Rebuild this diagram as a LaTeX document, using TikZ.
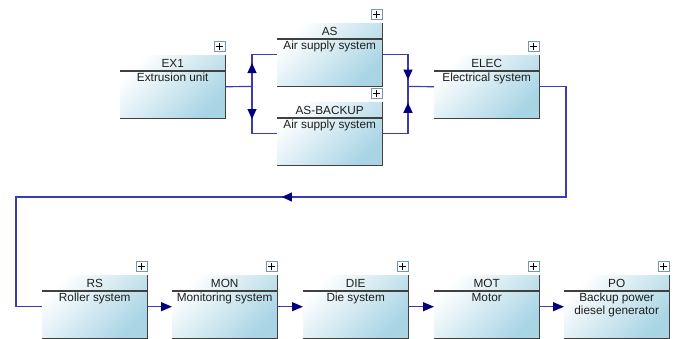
\documentclass[tikz,border=0pt]{standalone}
\usepackage{fontspec}
\setmainfont{Liberation Sans}
\usetikzlibrary{arrows.meta,positioning,calc,decorations.markings}

\definecolor{boxblue}{RGB}{168,212,228}
\definecolor{edgegray}{RGB}{64,64,64}
\definecolor{flowblue}{RGB}{60,60,175}
\definecolor{tipblue}{RGB}{0,0,128}
\definecolor{plusframe}{RGB}{120,150,180}
\definecolor{inkgray}{RGB}{30,30,30}

% block of the fault tree: name, x, y (top left, px), id, description
\newcommand{\ftblock}[5]{%
  \node[block] (#1) at (#2,#3) {};
  \draw[blockedge] (#1.north east) -- (#1.south east) -- (#1.south west);
  \draw[blockedge] ([yshift=-16pt]#1.north west) -- ([yshift=-16pt]#1.north east);
  \node[blocktitle] (#1-id) at ([yshift=-8.5pt]#1.north) {#4};
  \node[blocktext, anchor=north] (#1-desc) at ([yshift=-17pt]#1.north) {#5};
  \node[expander, anchor=south east] (#1-plus) at ([yshift=3pt]#1.north east) {};
}

\begin{document}
\begin{tikzpicture}[x=1pt, y=-1pt,
    block/.style={anchor=north west, minimum width=105pt, minimum height=63pt, inner sep=0pt,
                  top color=white, bottom color=boxblue, shading angle=45},
    blockedge/.style={edgegray, line width=1.1pt},
    blocktitle/.style={inner sep=0pt, text=inkgray, font=\fontsize{11.8}{13}\selectfont},
    blocktext/.style={inner sep=1pt, align=center, text=inkgray, font=\fontsize{11.8}{13}\selectfont},
    expander/.style={draw=plusframe, fill=white, line width=0.9pt, minimum width=11pt, minimum height=10pt, inner sep=0pt,
                     path picture={\draw[black, line width=1.1pt]
                        ([xshift=-3.5pt]path picture bounding box.center) -- ([xshift=3.5pt]path picture bounding box.center)
                        ([yshift=-3.5pt]path picture bounding box.center) -- ([yshift=3.5pt]path picture bounding box.center);}},
    flow/.style={flowblue, line width=1.2pt},
    endtip/.style={-{Triangle[length=11pt, width=9pt, color=tipblue]}},
    midtip/.style={postaction={decorate}, decoration={markings,
                   mark=at position #1 with {\arrow{Triangle[length=10pt, width=9pt, color=tipblue]}}}}
  ]
    \useasboundingbox (0,0) rectangle (678,338);

    % Top row
    \ftblock{ex1}{120}{55}{EX1}{Extrusion unit}
    \ftblock{as}{277}{23}{AS}{Air supply system}
    \ftblock{asb}{277}{102}{AS-BACKUP}{Air supply system}
    \ftblock{elec}{434}{55}{ELEC}{Electrical system}

    % Bottom row
    \ftblock{rs}{42}{275}{RS}{Roller system}
    \ftblock{mon}{172}{275}{MON}{Monitoring system}
    \ftblock{die}{303}{275}{DIE}{Die system}
    \ftblock{mot}{434}{275}{MOT}{Motor}
    \ftblock{po}{564}{275}{PO}{Backup power\\diesel generator}

    % Redundant air supply
    \coordinate (split) at (252,86.5);
    \coordinate (merge) at (408,86.5);
    \draw[flow] (ex1.east) -- (split);
    \draw[flow, midtip=23.5pt] (split) |- (as.west);
    \draw[flow, midtip=32.5pt] (split) |- (asb.west);
    \draw[flow, midtip=50.5pt] (as.east) -| (merge);
    \draw[flow, midtip=56.5pt] (asb.east) -| (merge);
    \draw[flow] (merge) -- (elec.west);

    % Return to the second row
    \coordinate (turnR) at (566,197);
    \coordinate (turnL) at (16,197);
    \draw[flow, midtip=421pt] (elec.east) -| (turnR) -- (turnL) |- (rs.west);

    % Series chain
    \draw[flow, endtip] (rs.east) -- (mon.west);
    \draw[flow, endtip] (mon.east) -- (die.west);
    \draw[flow, endtip] (die.east) -- (mot.west);
    \draw[flow, endtip] (mot.east) -- (po.west);
\end{tikzpicture}
\end{document}
